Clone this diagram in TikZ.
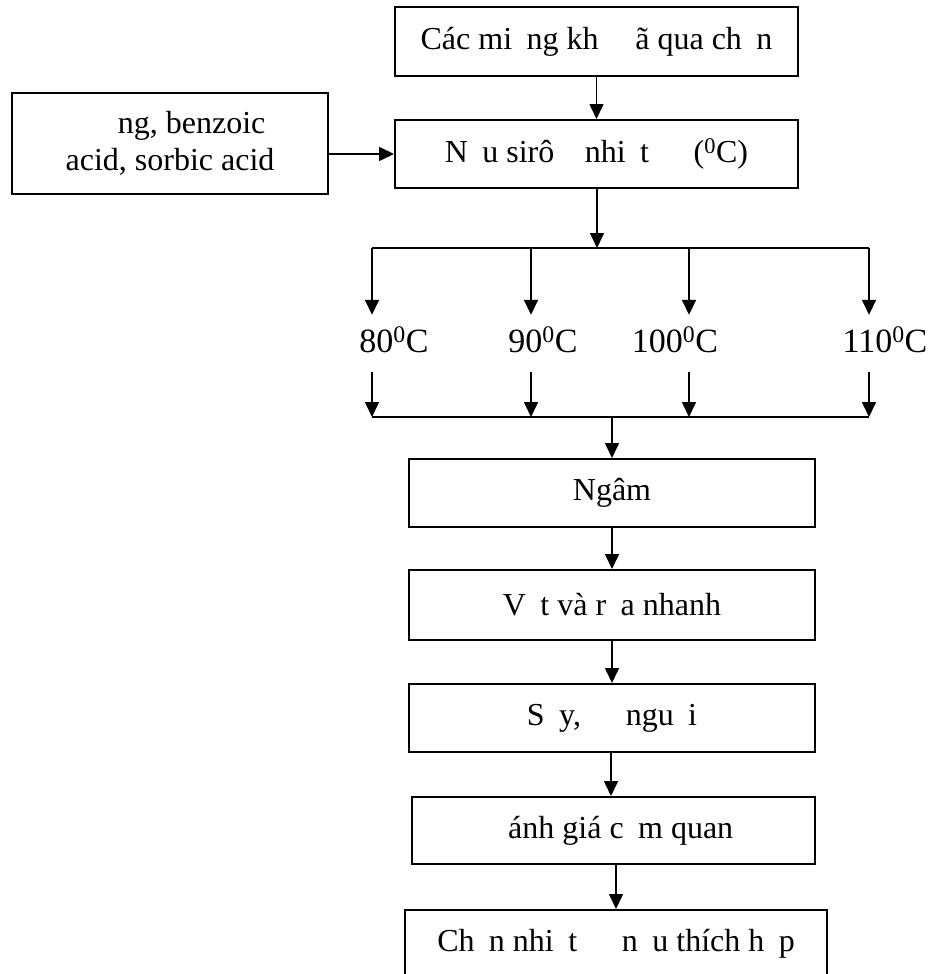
\documentclass[tikz,border=0pt]{standalone}
\usepackage{fontspec}
\setmainfont{Liberation Serif}
\usetikzlibrary{arrows.meta}

% blank slot left where a glyph is missing from the font
\newcommand\gp{\hspace{0.45em}}

\begin{document}
\begin{tikzpicture}[x=1pt, y={(0,-1pt)},
  stepbox/.style={draw, line width=2pt, rectangle, inner sep=0pt,
    align=center, font=\fontsize{32}{37}\selectfont},
  templabel/.style={inner xsep=0pt, inner ysep=12pt, text height=25pt,
    text depth=8pt, anchor=base, font=\fontsize{34}{38}\selectfont},
  arr/.style={line width=1.6pt, -{Triangle[length=15pt,width=14pt]}},
  ln/.style={line width=1.6pt}]

\useasboundingbox (0,0) rectangle (930,974);
\clip (0,0) rectangle (930,974);

% process boxes
\node[stepbox, minimum width=403pt, minimum height=69pt] (start) at (596.5,41.5)
  {Các mi\gp ng kh\gp{} \gp ã qua ch\gp n};
\node[stepbox, minimum width=403pt, minimum height=68pt] (syrup) at (596.5,154)
  {N\gp u sirô \gp{} nhi\gp t \gp\gp{} (\textsuperscript{0}C)};
\node[stepbox, minimum width=316pt, minimum height=101pt] (additives) at (170,143.5)
  {\gp\gp\gp ng, benzoic\\acid, sorbic acid};
\node[stepbox, minimum width=406pt, minimum height=68pt] (soak) at (612,493) {Ngâm};
\node[stepbox, minimum width=406pt, minimum height=70pt] (rinse) at (612,605)
  {V\gp t và r\gp a nhanh};
\node[stepbox, minimum width=406pt, minimum height=68pt] (dry) at (612,718)
  {S\gp y, \gp\gp{} ngu\gp i};
\node[stepbox, minimum width=403pt, minimum height=67pt] (eval) at (613.5,830.5)
  {\gp ánh giá c\gp m quan};
\node[stepbox, minimum width=422pt, minimum height=68pt] (pick) at (616,944)
  {Ch\gp n nhi\gp t \gp\gp{} n\gp u thích h\gp p};

% temperature labels
\node[templabel] (t80)  at (394,352) {80\textsuperscript{0}C};
\node[templabel] (t90)  at (543,352) {90\textsuperscript{0}C};
\node[templabel] (t100) at (675,352) {100\textsuperscript{0}C};
\node[templabel] (t110) at (885,352) {110\textsuperscript{0}C};

% branch and merge points
\coordinate (split) at (597,248);
\coordinate (d1) at (372,248);
\coordinate (d2) at (531,248);
\coordinate (d3) at (689,248);
\coordinate (d4) at (869,248);
\coordinate (m1) at (372,417);
\coordinate (m2) at (531,417);
\coordinate (m3) at (689,417);
\coordinate (m4) at (869,417);
\coordinate (merge) at (612,417);

% connectors
\draw[arr] (start.south -| syrup.north) -- (syrup.north);
\draw[arr] (additives.east |- syrup.west) -- (syrup.west);
\draw[arr] (syrup.south -| split) -- (split);
\draw[ln] (d1) -- (d4);
\draw[arr] (d1) -- (d1 |- t80.north);
\draw[arr] (d2) -- (d2 |- t90.north);
\draw[arr] (d3) -- (d3 |- t100.north);
\draw[arr] (d4) -- (d4 |- t110.north);
\draw[arr] (m1 |- t80.south) -- (m1);
\draw[arr] (m2 |- t90.south) -- (m2);
\draw[arr] (m3 |- t100.south) -- (m3);
\draw[arr] (m4 |- t110.south) -- (m4);
\draw[ln] (m1) -- (m4);
\draw[arr] (merge) -- (soak.north);
\draw[arr] (soak.south) -- (rinse.north);
\draw[arr] (rinse.south) -- (dry.north);
\draw[arr] (dry.south -| 611,0) -- (eval.north -| 611,0);
\draw[arr] (eval.south -| pick.north) -- (pick.north);
\end{tikzpicture}
\end{document}
